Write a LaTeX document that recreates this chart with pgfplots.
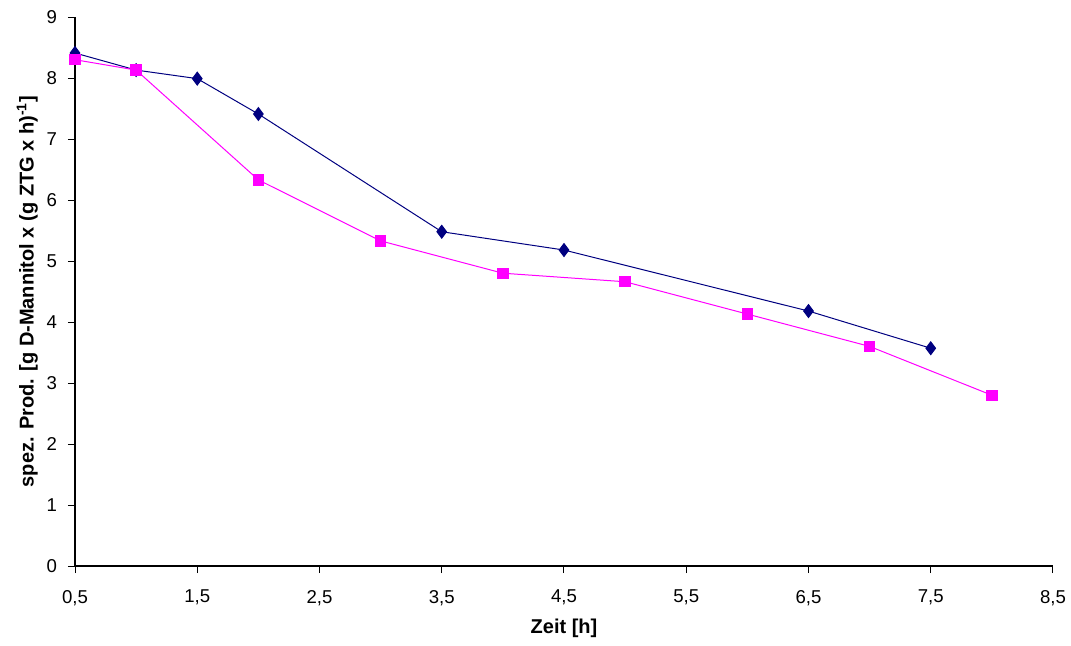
\documentclass[border=0pt]{standalone}
\usepackage{pgfplots}
\pgfplotsset{compat=1.18}
\usepackage{fontspec}
\setmainfont{Liberation Sans}
\definecolor{navyc}{RGB}{0,0,128}
\definecolor{magc}{RGB}{255,0,255}
\begin{document}
\begin{tikzpicture}
\path[use as bounding box] (-37.5pt,-39.5pt) rectangle (498pt,283pt);
\begin{axis}[
  at={(0pt,0pt)}, anchor=south west,
  scale only axis, width=489pt, height=274.5pt,
  xmin=0.5, xmax=8.5, ymin=0, ymax=9,
  xtick={0.5,1.5,...,8.5}, ytick={0,1,...,9},
  axis lines*=left, axis line style={line width=0.6pt, -},
  tick style={black, line width=0.5pt},
  tick align=outside, major tick length=3.5pt,
  /pgf/number format/assume math mode=true,
  xticklabel style={/pgf/number format/fixed, /pgf/number format/fixed zerofill, /pgf/number format/precision=1, /pgf/number format/use comma, yshift=-5pt},
  ticklabel style={font=\fontsize{9.3pt}{11pt}\selectfont},
  yticklabel style={xshift=-2pt},
  xlabel={\textbf{Zeit [h]}},
  ylabel={\textbf{spez. Prod. [g D-Mannitol x (g ZTG x h)\textsuperscript{-1}]}},
  label style={font=\fontsize{10pt}{12pt}\selectfont},
  xlabel style={yshift=0pt},
  ylabel style={yshift=-2.5pt},
  clip=false,
]
\addplot[color=navyc, line width=0.5pt, mark=diamond*, mark size=3.2pt, mark options={fill=navyc, draw=navyc}]
  coordinates {(0.5,8.41) (1.0,8.13) (1.5,7.99) (2.0,7.41) (3.5,5.48) (4.5,5.18) (6.5,4.18) (7.5,3.57)};
\addplot[color=magc, line width=0.5pt, mark=square*, mark size=2.6pt, mark options={fill=magc, draw=magc}]
  coordinates {(0.5,8.30) (1.0,8.13) (2.0,6.33) (3.0,5.33) (4.0,4.80) (5.0,4.66) (6.0,4.13) (7.0,3.60) (8.0,2.80)};
\end{axis}
\end{tikzpicture}
\end{document}
